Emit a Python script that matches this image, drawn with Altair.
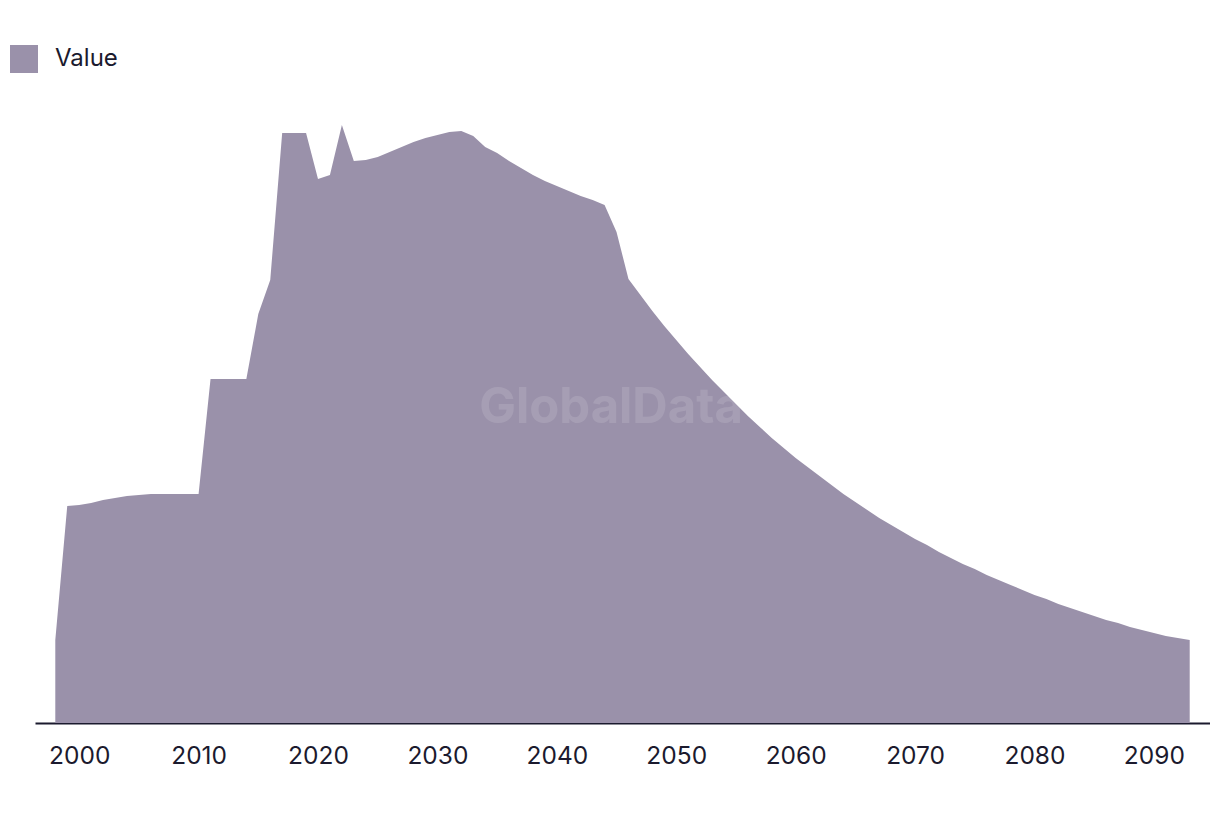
import altair as alt
import pandas as pd

years = list(range(1998, 2094))

values = [
    83, 217, 218, 220, 223, 225, 227, 228, 229, 229,
    229, 229, 229, 344, 344, 344, 344, 409, 443, 590,
    590, 590, 544, 548, 598, 562, 563, 566, 571, 576,
    581, 585, 588, 591, 592, 587, 576, 570, 562, 555,
    548, 542, 537, 532, 527, 523, 518, 491,
    444, 428, 412, 397, 383, 369, 356, 343, 331, 319,
    307, 296, 285, 275, 265, 256, 247, 238, 229, 221,
    213, 205, 198, 191, 184, 178, 171, 165, 159, 154,
    148, 143, 138, 133, 128, 124, 119, 115, 111, 107,
    103, 100, 96, 93, 90, 87, 85, 83,
]

series_name = "Value"
tick_years = [2000, 2010, 2020, 2030, 2040, 2050, 2060, 2070, 2080, 2090]

df = pd.DataFrame({"Year": years, "Value": values, "Series": [series_name] * len(years)})

FONT = "Inter"
TEXT_COLOR = "#1b1a2e"
FILL = "#9a91aa"

area = alt.Chart(df).mark_area(opacity=1).encode(
    x=alt.X(
        "Year:Q",
        scale=alt.Scale(domain=[1996.3, 2094.7], nice=False, zero=False),
        axis=alt.Axis(
            values=tick_years,
            format="d",
            title=None,
            ticks=False,
            tickSize=0,
            grid=False,
            domainColor=TEXT_COLOR,
            domainWidth=2,
            domainOpacity=1,
            labelFont=FONT,
            labelFontSize=24.5,
            labelColor=TEXT_COLOR,
            labelPadding=21,
            labelBaseline="top",
            labelFlush=False,
        ),
    ),
    y=alt.Y(
        "Value:Q",
        scale=alt.Scale(domain=[0, 623], nice=False),
        axis=None,
    ),
    color=alt.Color(
        "Series:N",
        scale=alt.Scale(domain=[series_name], range=[FILL]),
        legend=alt.Legend(
            title=None,
            orient="none",
            legendX=-25,
            legendY=-55,
            symbolType="square",
            symbolSize=784,
            symbolStrokeWidth=0,
            symbolOpacity=1,
            labelFont=FONT,
            labelFontSize=24,
            labelColor=TEXT_COLOR,
            labelOffset=17,
        ),
    ),
)

watermark = alt.Chart(pd.DataFrame({"t": ["GlobalData"]})).mark_text(
    font=FONT,
    fontSize=49,
    fontWeight="bold",
    color="white",
    opacity=0.12,
    align="center",
    baseline="middle",
).encode(
    text="t:N",
    x=alt.value(576),
    y=alt.value(308),
)

chart = (
    alt.layer(area, watermark)
    .properties(
        width=1175,
        height=623,
        autosize=alt.AutoSizeParams(type="none"),
        padding={"left": 27, "top": 92, "right": 0, "bottom": 70},
        background="white",
    )
    .configure_view(stroke=None)
)

chart.save("out.html", embed_options={"renderer": "svg", "actions": False})
